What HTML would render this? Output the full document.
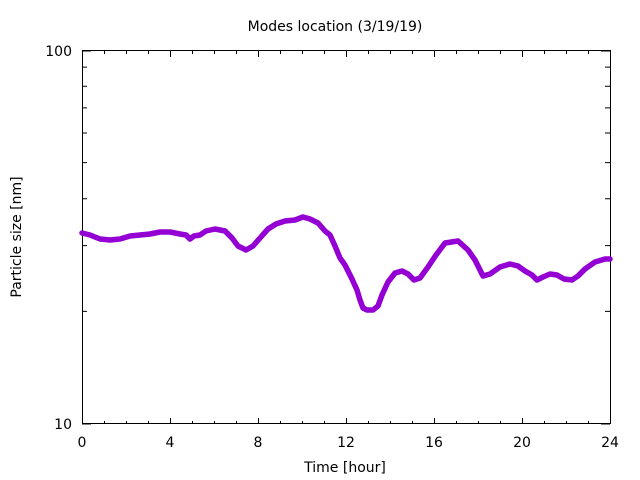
<!DOCTYPE html>
<html><head><meta charset="utf-8"><style>
body{margin:0;background:#fff}
svg{display:block;font-family:"DejaVu Sans","Liberation Sans",sans-serif}
</style></head><body>
<svg width="640" height="480" viewBox="0 0 640 480">
<rect width="640" height="480" fill="#fff"/>
<text x="335" y="31" font-size="14" text-anchor="middle">Modes location (3/19/19)</text>
<g stroke="#000" stroke-width="1" fill="none">
<rect x="82.5" y="50.5" width="528" height="373"/>
<path d="M82.5 424v-6M104.5 424v-3M126.5 424v-3M148.5 424v-3M170.5 424v-6M192.5 424v-3M214.5 424v-3M236.5 424v-3M258.5 424v-6M280.5 424v-3M302.5 424v-3M324.5 424v-3M346.5 424v-6M368.5 424v-3M390.5 424v-3M412.5 424v-3M434.5 424v-6M456.5 424v-3M478.5 424v-3M500.5 424v-3M522.5 424v-6M544.5 424v-3M566.5 424v-3M588.5 424v-3
M82.5 51v6M104.5 51v3M126.5 51v3M148.5 51v3M170.5 51v6M192.5 51v3M214.5 51v3M236.5 51v3M258.5 51v6M280.5 51v3M302.5 51v3M324.5 51v3M346.5 51v6M368.5 51v3M390.5 51v3M412.5 51v3M434.5 51v6M456.5 51v3M478.5 51v3M500.5 51v3M522.5 51v6M544.5 51v3M566.5 51v3M588.5 51v3"/>
<path d="M82 311.4h5M82 245.6h5M82 198.8h5M82 162.6h5M82 133h5M82 107.9h5M82 86.2h5M82 67.1h5
M610 311.4h-5M610 245.6h-5M610 198.8h-5M610 162.6h-5M610 133h-5M610 107.9h-5M610 86.2h-5M610 67.1h-5
M82 424h9M82 51h9M610 424h-9M610 51h-9"/>
</g>
<g font-size="14" text-anchor="middle">
<text x="82" y="447">0</text><text x="170" y="447">4</text><text x="258" y="447">8</text><text x="346" y="447">12</text><text x="434" y="447">16</text><text x="522" y="447">20</text><text x="610" y="447">24</text>
<text x="345" y="472">Time [hour]</text>
</g>
<g font-size="14" text-anchor="end">
<text x="72" y="429">10</text><text x="72" y="56">100</text>
</g>
<text transform="translate(21,237) rotate(-90)" font-size="14" text-anchor="middle">Particle size [nm]</text>
<polyline fill="none" stroke="#9400D3" stroke-width="5.5" stroke-linejoin="round" stroke-linecap="round" points="82,233 90,235 100,239 110,240 120,239 130,236 140,235 150,234 160,232 170,232 180,234 186,235 190,239 194,236 200,235 206,231 215,229 225,231 232,238 238,246 246,250 253,246 260,238 268,229 276,224 285,221 295,220 303,217 310,219 318,223 325,231 330,235 335,246 340,258 345,265 352,279 357,290 360,300 363,308 367,310 373,310 378,306 382,295 388,282 395,273 402,271 408,274 414,280 420,278 428,267 436,255 445,243 458,241 468,250 475,260 483,276 490,274 500,267 510,264 518,266 525,271 532,275 537,280 543,277 550,274 557,275 564,279 572,280 578,276 585,269 595,262 605,259 610,259"/>
</svg>
</body></html>
